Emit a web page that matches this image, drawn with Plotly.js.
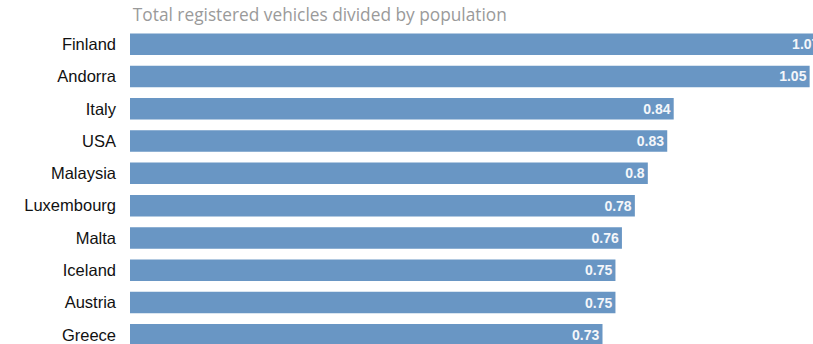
<!DOCTYPE html>
<html>
<head>
<meta charset="utf-8">
<script src="https://cdn.plot.ly/plotly-3.0.1.min.js"></script>
<style>
html,body{margin:0;padding:0;overflow:hidden;background:#fff;width:813px;height:344px;}
#chart{width:842px;height:360px;}
</style>
</head>
<body>
<div id="chart"></div>
<script>
const countries = ["Finland","Andorra","Italy","USA","Malaysia","Luxembourg","Malta","Iceland","Austria","Greece"];
const vehiclesPerPerson = [1.07,1.05,0.84,0.83,0.8,0.78,0.76,0.75,0.75,0.73];
const chartTitle = "Total registered vehicles divided by population";

const trace = {
  type: "bar",
  orientation: "h",
  y: countries,
  x: vehiclesPerPerson,
  text: vehiclesPerPerson.map(String),
  textposition: "inside",
  insidetextanchor: "end",
  textangle: 0,
  constraintext: "none",
  insidetextfont: {family: "Liberation Sans, Arial, sans-serif", size: 14, color: "#f4f6fa", weight: 700},
  marker: {color: "#6996c4", line: {width: 0}},
  hoverinfo: "none",
  cliponaxis: false
};

const layout = {
  width: 842,
  height: 360,
  margin: {l: 130, r: 0, t: 27.5, b: 9, pad: 0},
  paper_bgcolor: "#ffffff",
  plot_bgcolor: "#ffffff",
  bargap: 0.335,
  showlegend: false,
  title: {
    text: chartTitle,
    font: {family: "Open Sans, Liberation Sans, sans-serif", size: 17.3, color: "#9a9a9a"},
    xref: "paper", x: 0.004, xanchor: "left",
    yref: "container", y: 1 - 15/360, yanchor: "middle"
  },
  xaxis: {
    range: [0, 1.1],
    showgrid: false, zeroline: false, showticklabels: false, showline: false, ticks: ""
  },
  yaxis: {
    autorange: "reversed",
    showgrid: false, zeroline: false, showline: false, ticks: "",
    ticklabelstandoff: 13,
    tickfont: {family: "Liberation Sans, Arial, sans-serif", size: 16.5, color: "#111111"}
  }
};

Plotly.newPlot("chart", [trace], layout, {staticPlot: true, displayModeBar: false});
</script>
</body>
</html>
